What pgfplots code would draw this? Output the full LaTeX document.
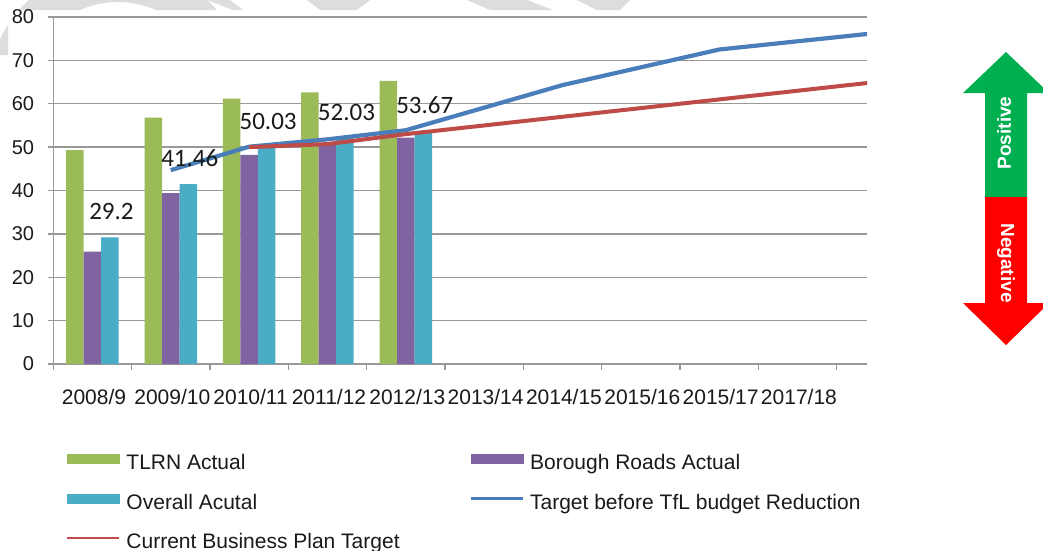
\documentclass[border=0pt]{standalone}
\usepackage{fontspec}
\setmainfont{Liberation Sans}
\newfontfamily\calib{Carlito}
\usepackage{pgfplots}
\pgfplotsset{compat=1.18}
\definecolor{cGreen}{HTML}{9BBB59}
\definecolor{cPurple}{HTML}{8064A2}
\definecolor{cTeal}{HTML}{4BACC6}
\definecolor{cBlue}{HTML}{4A7EBB}
\definecolor{cRed}{HTML}{BE4B48}
\definecolor{gridgray}{HTML}{999999}
\definecolor{wm}{HTML}{DDDDDD}
\definecolor{arrGreen}{HTML}{00B050}
\definecolor{arrRed}{HTML}{FF0000}
\definecolor{txt}{HTML}{1A1A1A}

\begin{document}
\begin{tikzpicture}
\useasboundingbox (0pt,0pt) rectangle (1043pt,-550pt);
\fill[white] (0pt,0pt) rectangle (1043pt,-550pt);
% faint watermark pieces
\begin{scope}
\clip (0pt,0pt) rectangle (1043pt,-10pt) (0pt,-10pt) rectangle (8pt,-55pt);
\fill[wm, even odd rule] (118pt,-96pt) circle (131pt) (118pt,-96pt) circle (94pt);
\fill[wm] (207pt,0pt) -- (230pt,0pt) -- (243pt,-10pt) -- (233pt,-10pt) -- cycle;
\fill[wm] (307pt,0pt) -- (370pt,0pt) -- (357pt,-10pt) -- (320pt,-10pt) -- cycle;
\fill[wm] (467pt,0pt) -- (527pt,0pt) -- (553pt,-10pt) -- (490pt,-10pt) -- cycle;
\fill[wm] (577pt,0pt) -- (630pt,0pt) -- (620pt,-10pt) -- (597pt,-10pt) -- cycle;
\end{scope}

\begin{axis}[
  at={(53.3pt,-364pt)}, anchor=south west,
  scale only axis, width=813.7pt, height=347pt,
  xmin=-0.5, xmax=9.888, ymin=0, ymax=80,
  ytick={0,10,...,80},
  xtick={0,...,9},
  xticklabels={2008/9,2009/10,2010/11,2011/12,2012/13,2013/14,2014/15,2015/16,2015/17,2017/18},
  minor xtick={-0.5,0.5,...,9.5},
  major x tick style={draw=none},
  tick align=outside,
  major tick length=5pt, minor tick length=6pt,
  axis lines*=left,
  axis line style={gridgray, line width=1.3pt},
  ymajorgrids, grid style={gridgray, line width=1.3pt},
  tick style={gridgray, line width=1.3pt},
  /pgf/number format/assume math mode=true,
  yticklabel style={font=\fontsize{20}{24}\selectfont, text=txt, anchor=east, inner sep=0pt, xshift=-14pt},
  xticklabel style={font=\fontsize{21}{24}\selectfont, text=txt, anchor=center, inner sep=0pt, yshift=-28pt, xshift=1.5pt},
  legend style={at={(0.0156,-0.258)}, anchor=north west, draw=none, fill=none,
     inner sep=0pt, outer sep=0pt, row sep=20.5pt,
     nodes={inner sep=0pt, text height=15pt, text depth=4pt, font=\fontsize{21}{24}\selectfont, text=txt},
     /tikz/every odd column/.append style={column sep=6pt},
     /tikz/every even column/.append style={column sep=70pt}},
  legend columns=2, legend cell align=left,
  clip=true,
]
\addlegendimage{legend image code/.code={\fill[cGreen] (0pt,1pt) rectangle (52pt,10pt);}}
\addlegendentry{TLRN Actual}
\addlegendimage{legend image code/.code={\fill[cPurple] (0pt,1pt) rectangle (52pt,10pt);}}
\addlegendentry{Borough Roads Actual}
\addlegendimage{legend image code/.code={\fill[cTeal] (0pt,1pt) rectangle (52pt,10pt);}}
\addlegendentry{Overall Acutal}
\addlegendimage{legend image code/.code={\draw[cBlue, line width=2.5pt] (0pt,5.5pt) -- (52pt,5.5pt);}}
\addlegendentry{Target before TfL budget Reduction}
\addlegendimage{legend image code/.code={\draw[cRed, line width=2.5pt] (0pt,5.5pt) -- (52pt,5.5pt);}}
\addlegendentry{Current Business Plan Target}

\addplot[forget plot, ybar, bar width=17.5pt, bar shift=-17.5pt, fill=cGreen, draw=none]
  coordinates {(0,49.3) (1,56.8) (2,61.2) (3,62.6) (4,65.3)};
\addplot[forget plot, ybar, bar width=17.5pt, bar shift=0pt, fill=cPurple, draw=none]
  coordinates {(0,25.9) (1,39.4) (2,48.2) (3,51.0) (4,52.2)};
\addplot[forget plot, ybar, bar width=17.5pt, bar shift=17.5pt, fill=cTeal, draw=none]
  coordinates {(0,29.2) (1,41.46) (2,50.03) (3,52.03) (4,53.67)};
\addplot[forget plot, cBlue, line width=4.2pt, line join=round]
  coordinates {(1,44.7) (2,50.1) (3,51.8) (4,53.9) (5,59.1) (6,64.3) (7,68.4) (8,72.5) (9,74.4) (10,76.3)};
\addplot[forget plot, cRed, line width=4pt, line join=round]
  coordinates {(2,50.0) (3,50.7) (4,53.0) (5,55.0) (6,57.0) (7,59.0) (8,61.0) (9,63.0) (10,65.0)};
\addplot[forget plot, only marks, mark=none,
  nodes near coords, point meta=explicit symbolic,
  every node near coord/.append style={anchor=center, xshift=19pt, yshift=26pt, inner sep=0pt,
     font=\calib\fontsize{25}{25}\selectfont, text=txt}]
  coordinates {(0,29.2)[29.2] (1,41.46)[41.46] (2,50.03)[50.03] (3,52.03)[52.03] (4,53.67)[53.67]};
\end{axis}

% positive / negative arrow
\fill[arrGreen] (1006pt,-52pt) -- (1049pt,-93pt) -- (1027pt,-93pt) -- (1027pt,-197pt)
   -- (985pt,-197pt) -- (985pt,-93pt) -- (963pt,-93pt) -- cycle;
\fill[arrRed] (985pt,-197pt) -- (1027pt,-197pt) -- (1027pt,-303pt) -- (1049pt,-303pt)
   -- (1006pt,-345pt) -- (963pt,-303pt) -- (985pt,-303pt) -- cycle;
\node[rotate=90, text=white, inner sep=0pt, font=\bfseries\fontsize{19}{19}\selectfont] at (1004pt,-133pt) {Positive};
\node[rotate=-90, text=white, inner sep=0pt, font=\bfseries\fontsize{19}{19}\selectfont] at (1006pt,-263pt) {Negative};
\end{tikzpicture}
\end{document}
